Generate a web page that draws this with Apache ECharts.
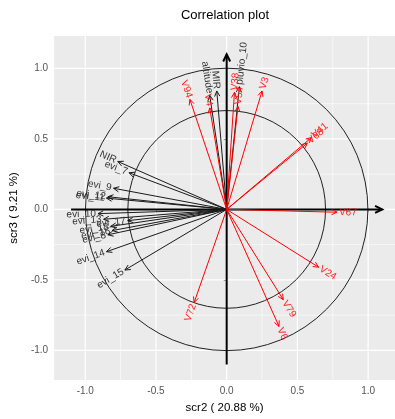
<!DOCTYPE html>
<html>
<head>
<meta charset="utf-8">
<script src="https://cdn.jsdelivr.net/npm/echarts@6/dist/echarts.min.js"></script>
<style>
  html, body { margin: 0; padding: 0; background: #fff; }
  #chart { width: 395px; height: 419px; }
</style>
</head>
<body>
<div id="chart"></div>
<script>
// red variables (V…)
const redNames = ['V94', 'V4', 'V38', 'V54', 'V3', 'V41', 'V68', 'V67', 'V24', 'V79', 'V6', 'V72']
const redX = [-0.26, -0.12, 0.055, 0.08, 0.25, 0.60, 0.57, 0.78, 0.65, 0.40, 0.37, -0.23]
const redY = [0.78, 0.72, 0.83, 0.73, 0.84, 0.51, 0.47, -0.02, -0.41, -0.64, -0.83, -0.66]

// black variables
const blackNames = ['altitude', 'MIR', 'pluvio_10', 'NIR', 'evi_7', 'evi_9', 'evi_12', 'evi_11',
  'evi_10', 'evi_13', 'evi_17', 'evi_18', 'evi_16', 'evi_8', 'evi_14', 'evi_15']
const blackX = [-0.12, -0.07, 0.09, -0.77, -0.69, -0.80, -0.84, -0.85,
  -0.91, -0.87, -0.70, -0.82, -0.81, -0.84, -0.85, -0.72]
const blackY = [0.81, 0.84, 0.87, 0.34, 0.26, 0.15, 0.09, 0.08,
  -0.03, -0.07, -0.08, -0.12, -0.15, -0.18, -0.30, -0.43]

const tickValues = [-1.0, -0.5, 0.0, 0.5, 1.0]
const minorValues = [-0.75, -0.25, 0.25, 0.75]
const circleRadii = [1, 0.7]
// axis arrows: x1, y1, x2, y2
const axisArrows = [[-1.1, 0, 1.1, 0], [0, -1.1, 0, 1.1]]

const chart = echarts.init(document.getElementById('chart'))

const fmt = v => v.toFixed(1)

function arrowSeries(xs, ys, names, color, textColor) {
  return {
    type: 'custom',
    coordinateSystem: 'cartesian2d',
    silent: true,
    z: 5,
    data: xs.map((x, i) => [x, ys[i]]),
    renderItem: (params, api) => {
      const i = params.dataIndex
      const o = api.coord([0, 0])
      const p = api.coord([api.value(0), api.value(1)])
      const a = Math.atan2(p[1] - o[1], p[0] - o[0])
      const h = 6, w = 0.45
      const l1 = [p[0] - h * Math.cos(a - w), p[1] - h * Math.sin(a - w)]
      const l2 = [p[0] - h * Math.cos(a + w), p[1] - h * Math.sin(a + w)]
      const deg = -a * 180 / Math.PI
      let rot, align
      if (Math.abs(deg) <= 90) {
        rot = deg
        align = 'left'
      } else {
        rot = deg > 0 ? deg - 180 : deg + 180
        align = 'right'
      }
      const gap = 2
      return {
        type: 'group',
        children: [
          { type: 'line', shape: { x1: o[0], y1: o[1], x2: p[0], y2: p[1] }, style: { stroke: color, lineWidth: 1 } },
          { type: 'polyline', shape: { points: [l1, p, l2] }, style: { stroke: color, fill: 'none', lineWidth: 1 } },
          {
            type: 'text',
            x: p[0] + gap * Math.cos(a),
            y: p[1] + gap * Math.sin(a),
            rotation: rot * Math.PI / 180,
            style: {
              text: names[i], fill: textColor, fontSize: 10,
              fontFamily: 'Liberation Sans, Arial, sans-serif',
              align: align, verticalAlign: 'middle'
            }
          }
        ]
      }
    }
  }
}

const option = {
  animation: false,
  backgroundColor: '#ffffff',
  title: {
    text: 'Correlation plot',
    left: 220,
    top: 4,
    textAlign: 'center',
    textStyle: { fontSize: 13, fontWeight: 'normal', color: '#000', fontFamily: 'Liberation Sans, Arial, sans-serif' }
  },
  grid: {
    left: 45, right: 0, top: 36, bottom: 32,
    show: true, backgroundColor: '#EBEBEB', borderWidth: 0
  },
  xAxis: {
    type: 'value',
    min: -1.22,
    max: 1.19,
    name: 'scr2 ( 20.88 %)',
    nameLocation: 'middle',
    nameGap: 22,
    nameTextStyle: { fontSize: 11.5, color: '#000', fontFamily: 'Liberation Sans, Arial, sans-serif' },
    axisLine: { show: false },
    axisTick: { show: true, length: 3, lineStyle: { color: '#333' }, customValues: tickValues },
    axisLabel: {
      color: '#555', fontSize: 10, margin: 6, fontFamily: 'Liberation Sans, Arial, sans-serif',
      customValues: tickValues, formatter: fmt
    },
    splitLine: { show: false }
  },
  yAxis: {
    type: 'value',
    min: -1.21,
    max: 1.23,
    name: 'scr3 ( 9.21 %)',
    nameLocation: 'middle',
    nameGap: 33,
    nameTextStyle: { fontSize: 11.5, color: '#000', fontFamily: 'Liberation Sans, Arial, sans-serif' },
    axisLine: { show: false },
    axisTick: { show: true, length: 3, lineStyle: { color: '#333' }, customValues: tickValues },
    axisLabel: {
      color: '#555', fontSize: 10, margin: 6, fontFamily: 'Liberation Sans, Arial, sans-serif',
      customValues: tickValues, formatter: fmt
    },
    splitLine: { show: false }
  },
  series: [
    // grid lines
    {
      type: 'custom',
      coordinateSystem: 'cartesian2d',
      silent: true,
      z: 1,
      data: tickValues.map(v => [v, 1]).concat(minorValues.map(v => [v, 0])),
      renderItem: (params, api) => {
        const cs = params.coordSys
        const v = api.value(0)
        const major = api.value(1) === 1
        const px = api.coord([v, 0])[0]
        const py = api.coord([0, v])[1]
        const st = { stroke: '#ffffff', lineWidth: major ? 1.2 : 0.6 }
        return {
          type: 'group',
          children: [
            { type: 'line', shape: { x1: px, y1: cs.y, x2: px, y2: cs.y + cs.height }, style: st },
            { type: 'line', shape: { x1: cs.x, y1: py, x2: cs.x + cs.width, y2: py }, style: st }
          ]
        }
      }
    },
    // circles
    {
      type: 'custom',
      coordinateSystem: 'cartesian2d',
      silent: true,
      z: 2,
      data: circleRadii.map(r => [r]),
      renderItem: (params, api) => {
        const c = api.coord([0, 0])
        const s = api.size([api.value(0), api.value(0)])
        return {
          type: 'circle',
          shape: { cx: c[0], cy: c[1], r: (s[0] + s[1]) / 2 },
          style: { fill: 'none', stroke: '#222', lineWidth: 1 }
        }
      }
    },
    // axis arrows
    {
      type: 'custom',
      coordinateSystem: 'cartesian2d',
      silent: true,
      z: 3,
      data: axisArrows,
      renderItem: (params, api) => {
        const p1 = api.coord([api.value(0), api.value(1)])
        const p2 = api.coord([api.value(2), api.value(3)])
        const a = Math.atan2(p2[1] - p1[1], p2[0] - p1[0])
        const h = 8, w = 0.45
        const l1 = [p2[0] - h * Math.cos(a - w), p2[1] - h * Math.sin(a - w)]
        const l2 = [p2[0] - h * Math.cos(a + w), p2[1] - h * Math.sin(a + w)]
        return {
          type: 'group',
          children: [
            { type: 'line', shape: { x1: p1[0], y1: p1[1], x2: p2[0], y2: p2[1] }, style: { stroke: '#000', lineWidth: 2 } },
            { type: 'polyline', shape: { points: [l1, p2, l2] }, style: { stroke: '#000', fill: 'none', lineWidth: 2 } }
          ]
        }
      }
    },
    arrowSeries(blackX, blackY, blackNames, '#1a1a1a', '#333333'),
    arrowSeries(redX, redY, redNames, '#ff0000', '#ff2020')
  ]
}

chart && chart.setOption(option)
</script>
</body>
</html>
